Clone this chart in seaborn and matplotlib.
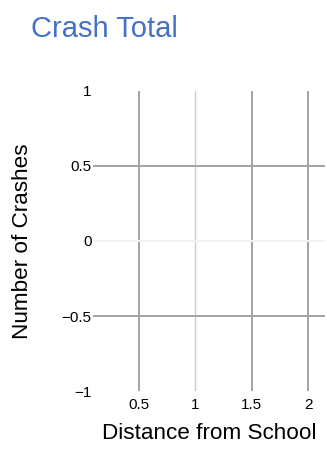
import pandas as pd
import matplotlib
matplotlib.use('Agg')
import matplotlib.pyplot as plt
import seaborn as sns

# chart data (the chart has no crashes drawn, only the axes)
distance = []
crashes = []
x_ticks = [0.5, 1, 1.5, 2]
x_tick_labels = ['0.5', '1', '1.5', '2']
y_ticks = [1, 0.5, 0, -0.5, -1]
y_tick_labels = ['1', '0.5', '0', '\u22120.5', '\u22121']

sns.set_style('white')
plt.rcParams['font.family'] = ['Liberation Sans', 'DejaVu Sans']
plt.rcParams['text.color'] = 'black'
plt.rcParams['axes.labelcolor'] = 'black'
plt.rcParams['xtick.color'] = 'black'
plt.rcParams['ytick.color'] = 'black'

fig = plt.figure(figsize=(3.27, 4.5), dpi=100)
ax = fig.add_axes([0.284, 0.131, 0.71, 0.667])

df = pd.DataFrame({'distance': pd.Series(distance, dtype=float),
                   'crashes': pd.Series(crashes, dtype=float)})
sns.scatterplot(data=df, x='distance', y='crashes', ax=ax)

ax.set_xlim(0.09, 2.15)
ax.set_ylim(-1, 1)

# grid lines
v_colors = {0.5: '#a3a3a3', 1: '#cbcbcb', 1.5: '#a3a3a3', 2: '#a3a3a3'}
for x in x_ticks:
    ax.axvline(x, color=v_colors[x], lw=1.4 if x != 1 else 1.0, zorder=0)
h_colors = {0.5: '#a3a3a3', 0: '#f2f2f2', -0.5: '#a3a3a3'}
for y in y_ticks:
    if y in h_colors:
        ax.axhline(y, color=h_colors[y], lw=1.4, zorder=0)

ax.set_xticks(x_ticks)
ax.set_xticklabels(x_tick_labels, fontsize=11)
ax.set_yticks(y_ticks)
ax.set_yticklabels(y_tick_labels, fontsize=11)
ax.tick_params(axis='both', length=0, colors='black')
ax.tick_params(axis='x', pad=5)
ax.tick_params(axis='y', pad=1)

for s in ax.spines.values():
    s.set_visible(False)

ax.set_xlabel('Distance from School', fontsize=16.2, color='black')
ax.set_ylabel('Number of Crashes', fontsize=16.2, color='black')
ax.yaxis.set_label_coords(-0.26, 0.5)
ax.xaxis.set_label_coords(0.5, -0.105)

fig.text(0.095, 0.935, 'Crash Total', fontsize=21, color='#4472c4',
         ha='left', va='center')

fig.savefig('out.png', dpi=100)
